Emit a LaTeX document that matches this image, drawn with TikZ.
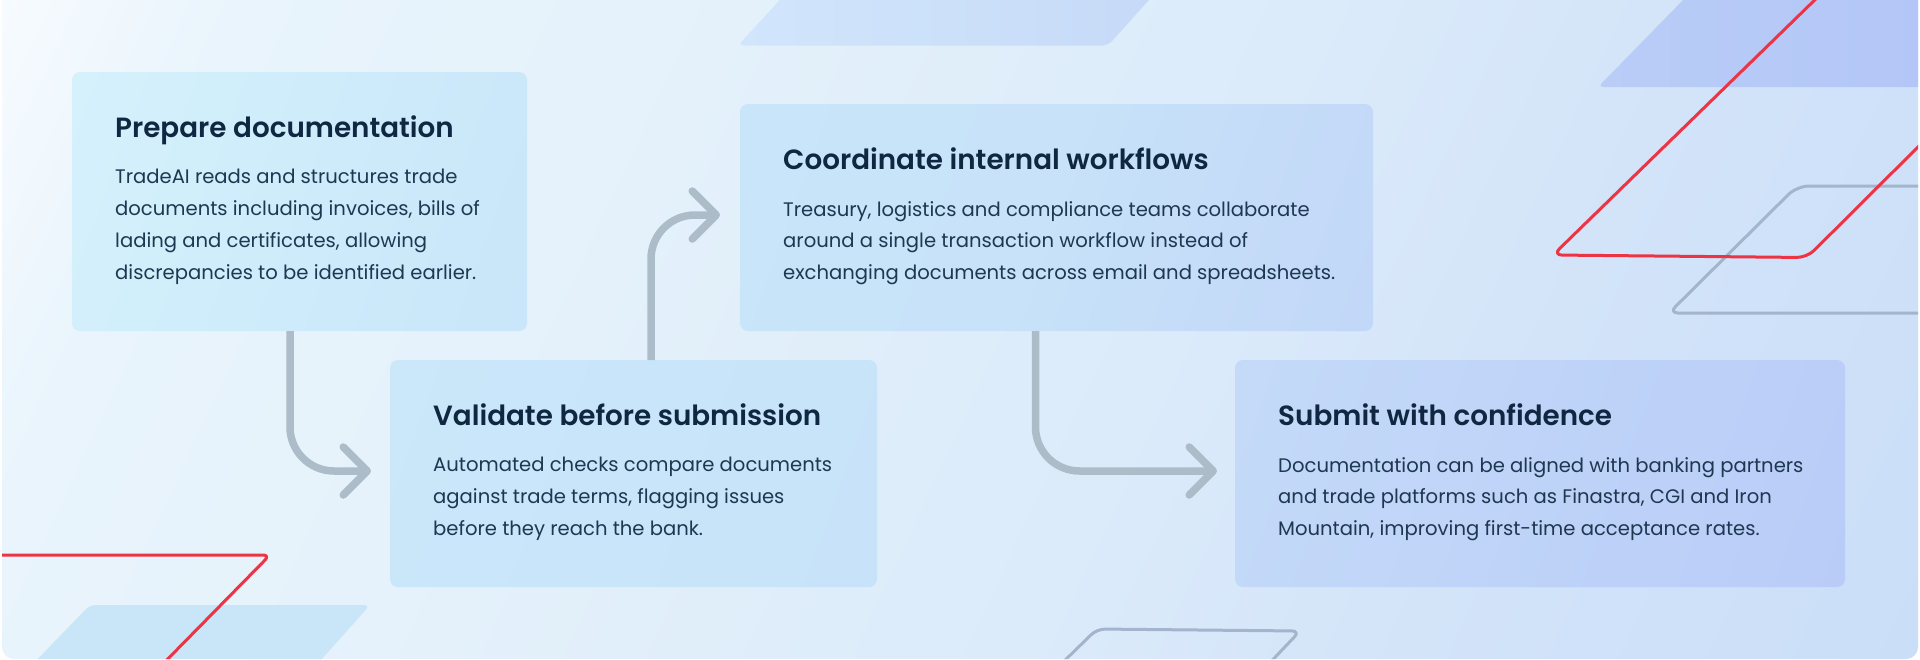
\documentclass[tikz,border=0pt]{standalone}
\usepackage{fontspec}
\setmainfont{Poppins}[BoldFont={Poppins SemiBold}]
\usetikzlibrary{arrows.meta}
\definecolor{inktitle}{HTML}{0F2740}
\definecolor{inkbody}{HTML}{1E3852}
\definecolor{redline}{HTML}{EC3444}
\definecolor{greyline}{HTML}{A3B5CC}
\definecolor{conn}{HTML}{ADBCC9}
\definecolor{bga}{HTML}{F7FBFF}
\definecolor{bgb}{HTML}{E9F4FC}
\definecolor{bgc}{HTML}{E5F2FB}
\definecolor{bgd}{HTML}{E0EEFA}
\definecolor{bge}{HTML}{DBEBFA}
\definecolor{bgf}{HTML}{D3E4F9}
\definecolor{bgg}{HTML}{CADEF8}
\definecolor{cda}{HTML}{D6F3FC}
\definecolor{cdb}{HTML}{C9E6FA}
\definecolor{cdc}{HTML}{C8E3F9}
\definecolor{cdd}{HTML}{C4DAF8}
\definecolor{cde}{HTML}{B9CCF8}
\definecolor{topa}{HTML}{D1E6FB}
\definecolor{topb}{HTML}{C6DAF8}
\definecolor{pura}{HTML}{B9CDF7}
\definecolor{purb}{HTML}{B3C6F7}
\definecolor{lowblue}{HTML}{C9E6F8}
\pgfdeclarehorizontalshading{bgshade}{2400pt}{color(0pt)=(bga); color(220pt)=(bgb); color(600pt)=(bgc); color(900pt)=(bgd); color(1200pt)=(bge); color(1550pt)=(bgf); color(2019pt)=(bgg)}
\pgfdeclarehorizontalshading{cardshade}{2400pt}{color(0pt)=(cda); color(608pt)=(cdb); color(1024pt)=(cdc); color(1300pt)=(cdd); color(1934pt)=(cde); color(2029pt)=(cde)}
\tikzset{
  cardbox/.style={rectangle,inner sep=0pt,outer sep=0pt},
  cardtitle/.style={anchor=base west,inner sep=0pt,text=inktitle,font=\fontsize{27.8}{32}\selectfont\bfseries},
  cardbody/.style={anchor=north west,inner sep=0pt,align=left,text=inkbody,font=\fontsize{19.6}{31.8}\selectfont},
  flow/.style={draw=conn,line width=7.5pt,rounded corners=44pt,-{Straight Barb[length=24pt,width=48pt,line width=7.5pt,round]}},
  redstroke/.style={draw=redline,line width=3pt,line join=round},
  greystroke/.style={draw=greyline,line width=3pt,line join=round},
}
\begin{document}
\begin{tikzpicture}[x=1pt,y=-1pt]
\useasboundingbox (0,0) rectangle (1920,659);
\fill[white] (0,0) rectangle (1920,659);
\begin{scope}
  \clip[rounded corners=12pt] (2,-20) rectangle (1918,659);
  \node[inner sep=0pt,rotate=-25] (bggrad) at (960,329.5) {\pgfuseshading{bgshade}};
  % decorative fills
  \shade[left color=topa,right color=topb,rounded corners=6pt] (789,-10) -- (1158,-10) -- (1108,45.5) -- (738,45.5) -- cycle;
  \shade[left color=pura,right color=purb,rounded corners=5pt] (1686,-3) -- (1930,-3) -- (1930,87) -- (1598,87) -- cycle;
  \fill[lowblue,rounded corners=6pt] (27,670) -- (90,605) -- (370,605) -- (312,670) -- cycle;
  % decorative outlines
  \draw[greystroke,rounded corners=12pt] (1930,186) -- (1797,186) [rounded corners=9pt] -- (1669,313) -- (1930,313);
  \draw[greystroke,rounded corners=8pt] (1055,670) -- (1097,629) -- (1300,631) -- (1263,670);
  \draw[redstroke,rounded corners=9pt] (1825,-10) -- (1553,255) [rounded corners=10pt] -- (1807,257.5) -- (1930,135);
  \draw[redstroke,rounded corners=7pt] (-5,555) -- (270,555) -- (155,672);
\end{scope}
% cards
\path node[cardbox,minimum width=455pt,minimum height=259pt] (a) at (299.5,201.5) {}
      node[cardbox,minimum width=487pt,minimum height=227pt] (b) at (633.5,473.5) {}
      node[cardbox,minimum width=633pt,minimum height=227pt] (c) at (1056.5,217.5) {}
      node[cardbox,minimum width=610pt,minimum height=227pt] (d) at (1540,473.5) {};
\begin{scope}
  \clip[rounded corners=8pt]
    (a.south west) rectangle (a.north east)
    (b.south west) rectangle (b.north east)
    (c.south west) rectangle (c.north east)
    (d.south west) rectangle (d.north east);
  \node[inner sep=0pt,rotate=-20] (cardgrad) at (960,329.5) {\pgfuseshading{cardshade}};
\end{scope}
% connectors
\draw[flow] ([xshift=-9.5pt]a.south) -- ([xshift=-9.5pt,yshift=2.5pt]a.south |- b.west) -- ([xshift=-19pt,yshift=2.5pt]b.west);
\draw[flow] ([xshift=17.5pt]b.north -| a.east) ++(106.5,0) -- ++(0,-145) -- ([xshift=-20pt,yshift=2.5pt]c.west);
\draw[flow] ([xshift=-21pt]c.south) -- ([xshift=-21pt,yshift=2.5pt]c.south |- d.west) -- ([xshift=-18pt,yshift=2.5pt]d.west);
% texts
\node[cardtitle] (ta) at ([xshift=43pt,yshift=-65pt]a.north west) {Prepare documentation};
\node[cardbody] (ba) at ([xshift=43pt,yshift=-97pt]a.north west) {TradeAI reads and structures trade\\documents including invoices, bills of\\lading and certificates, allowing\\discrepancies to be identified earlier.};
\node[cardtitle] (tb) at ([xshift=43pt,yshift=-65pt]b.north west) {Validate before submission};
\node[cardbody] (bb) at ([xshift=43pt,yshift=-97pt]b.north west) {Automated checks compare documents\\against trade terms, flagging issues\\before they reach the bank.};
\node[cardtitle] (tc) at ([xshift=43pt,yshift=-65pt]c.north west) {Coordinate internal workflows};
\node[cardbody] (bc) at ([xshift=43pt,yshift=-97pt]c.north west) {Treasury, logistics and compliance teams collaborate\\around a single transaction workflow instead of\\exchanging documents across email and spreadsheets.};
\node[cardtitle] (td) at ([xshift=43pt,yshift=-65pt]d.north west) {Submit with confidence};
\node[cardbody] (bd) at ([xshift=43pt,yshift=-97pt]d.north west) {Documentation can be aligned with banking partners\\and trade platforms such as Finastra, CGI and Iron\\Mountain, improving first-time acceptance rates.};
\end{tikzpicture}
\end{document}
